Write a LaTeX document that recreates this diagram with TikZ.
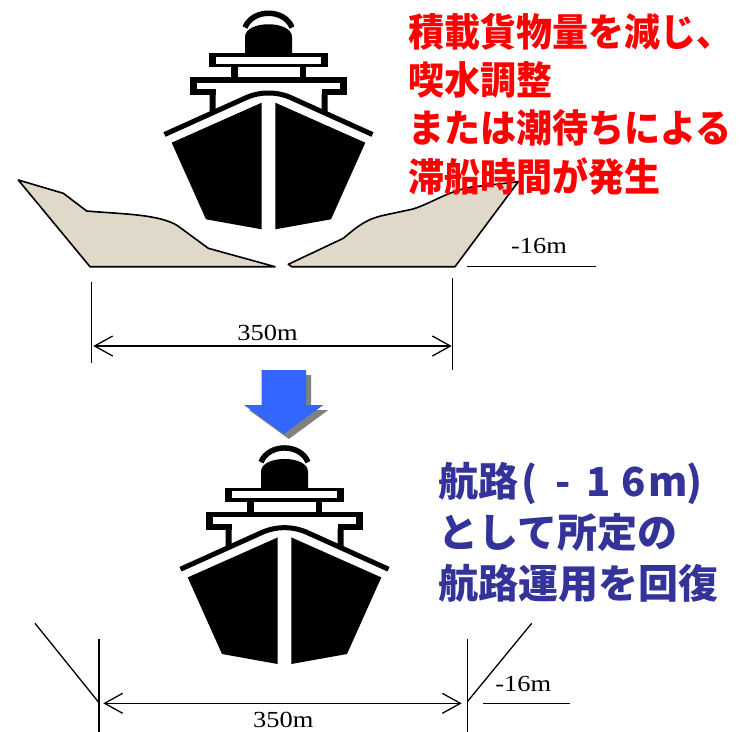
\documentclass[tikz,border=0pt]{standalone}
\usepackage{fontspec}
\setmainfont{Liberation Serif}
\newfontfamily\jpfont{Noto Sans CJK JP}
\usetikzlibrary{arrows.meta}

\definecolor{sand}{RGB}{224,216,200}
\definecolor{alertred}{RGB}{255,0,0}
\definecolor{noteblue}{RGB}{51,51,153}
\definecolor{flowblue}{RGB}{51,102,255}
\definecolor{shadowgray}{RGB}{128,128,128}

\newcommand\widetext[1]{\scalebox{1.15}[1]{#1}}

\tikzset{
  dimline/.style={line width=1.3pt},
  dimarrow/.style={line width=1.3pt,
    {Straight Barb[length=18pt,width=20pt]}-{Straight Barb[length=18pt,width=20pt]}},
  seabed/.style={fill=sand, draw=black, line width=1.6pt, line join=round},
  measure/.style={font=\fontsize{23}{23}\selectfont, inner sep=0pt, anchor=base},
  redtext/.style={font=\jpfont\bfseries\fontsize{36}{36}\selectfont, text=alertred,
    inner sep=0pt, anchor=base west},
  bluetext/.style={font=\jpfont\bfseries\fontsize{40}{40}\selectfont, text=noteblue,
    inner sep=0pt, anchor=base west},
  % front view of a ship, origin at the centre line, y measured downwards
  ship/.pic={
    % funnel cap and funnel
    \draw[line width=5.5pt] (-23.5,27.5) .. controls (-16,8.5) and (16,8.5) .. (23.5,27.5);
    \fill (-23.5,54) -- (-23.5,37) .. controls (-23.5,20) and (23.5,20) .. (23.5,37) -- (23.5,54) -- cycle;
    % upper deck with its two posts
    \fill (-59.5,53) rectangle (59.5,67);
    \fill[white] (-52.5,56.5) rectangle (52.5,63.5);
    \fill (-37.5,66) rectangle (-31,78);
    \fill (31,66) rectangle (37.5,78);
    % lower deck with its two posts
    \fill (-78.3,77.3) rectangle (78.3,95);
    \fill[white] (-71.3,82.7) rectangle (71.3,89.3);
    \fill[white] (-53,89) rectangle (53,95.5);
    \fill (-59,94) -- (-53,94) -- (-53,113) -- (-59,116) -- cycle;
    \fill (53,94) -- (59,94) -- (59,116) -- (53,113) -- cycle;
    % sheer line
    \draw[line width=5pt, rounded corners=10pt] (-104,134.5) -- (-12,93) -- (12,93) -- (104,134.5);
    % hull, split by the stem
    \fill (-96.8,142.7) -- (-6.8,102.7) -- (-6.8,229.3) -- (-62.5,219.3) -- cycle;
    \fill (6.8,102.7) -- (96.8,142.7) -- (62.5,219.3) -- (6.8,229.3) -- cycle;
  }
}

\begin{document}
\begin{tikzpicture}[x=1pt,y=-1pt]
\useasboundingbox (0,0) rectangle (743,731);

% ---------- before: shoaled channel ----------
\draw[seabed] (18.3,180) -- (63.3,193.3) -- (86.7,211)
  .. controls (120,214) and (160,214) .. (178,226) -- (208.3,248.3)
  -- (275,266.7) -- (90,266.7) -- cycle;
\draw[seabed] (288.3,264.3) -- (343.3,238.3)
  .. controls (358,226) and (366,219) .. (385,215) -- (413,209)
  .. controls (432,203) and (448,191) .. (472,187) -- (518.3,181.7)
  -- (455,266.7) -- (291.7,266.7) -- cycle;

\pic at (268.5,0) {ship};

\coordinate (lvlA1) at (466.7,266.7);
\coordinate (lvlA2) at (596,266.7);
\draw[dimline] (lvlA1) -- (lvlA2);
\node[measure] (depthA) at (539,253.3) {\widetext{-16m}};

\coordinate (extAL1) at (91.7,281.7);
\coordinate (extAL2) at (91.7,363.3);
\coordinate (extAR1) at (452.7,278.3);
\coordinate (extAR2) at (452.7,370);
\draw[dimline] (extAL1) -- (extAL2);
\draw[dimline] (extAR1) -- (extAR2);
\coordinate (arrAL) at (93.3,346);
\coordinate (arrAR) at (451.7,346);
\draw[dimarrow] (arrAL) -- (arrAR);
\node[measure] (widthA) at (267.5,340.7) {\widetext{350m}};

\node[redtext] (warn1) at (408,46.2) {\scalebox{1}[1.07]{積載貨物量を減じ、}};
\node[redtext] (warn2) at (408,94.5) {\scalebox{1}[1.07]{喫水調整}};
\node[redtext] (warn3) at (408,142.8) {\scalebox{1}[1.07]{または潮待ちによる}};
\node[redtext] (warn4) at (408,191.1) {\scalebox{1}[1.07]{滞船時間が発生}};

% ---------- transition arrow ----------
\begin{scope}[shift={(5,5)}]
  \fill[shadowgray] (261.7,370) -- (306,370) -- (306,405) -- (323.3,405) -- (283.8,434)
    -- (244,405) -- (261.7,405) -- cycle;
\end{scope}
\fill[flowblue] (261.7,370) -- (306,370) -- (306,405) -- (323.3,405) -- (283.8,434)
  -- (244,405) -- (261.7,405) -- cycle;

% ---------- after: dredged channel ----------
\begin{scope}[shift={(284.5,434.7)}, yscale=1.106]
  \pic {ship};
\end{scope}

\coordinate (slopeBL1) at (35,623.3);
\coordinate (slopeBL2) at (99,702.7);
\draw[dimline] (slopeBL1) -- (slopeBL2);
\coordinate (slopeBR1) at (467.3,701.7);
\coordinate (slopeBR2) at (531.7,623.3);
\draw[dimline] (slopeBR1) -- (slopeBR2);
\coordinate (extBL1) at (99,639.3);
\coordinate (extBL2) at (99,735);
\coordinate (extBR1) at (467.3,639.3);
\coordinate (extBR2) at (467.3,735);
\draw[dimline] (extBL1) -- (extBL2);
\draw[dimline] (extBR1) -- (extBR2);
\coordinate (lvlB1) at (483.3,703.3);
\coordinate (lvlB2) at (570,703.3);
\draw[dimline] (lvlB1) -- (lvlB2);
\node[measure] (depthB) at (523.3,691.7) {\widetext{-16m}};
\coordinate (arrBL) at (103.3,703.3);
\coordinate (arrBR) at (461.7,703.3);
\draw[dimarrow] (arrBL) -- (arrBR);
\node[measure] (widthB) at (283.3,727.5) {\widetext{350m}};

\node[bluetext] (fix1) at (438,496.9) {航路\hspace{2pt}\makebox[18pt]{(}\makebox[50pt]{-}\makebox[20pt]{1}\makebox[50pt]{6}\makebox[20pt]{m}\makebox[32pt]{)}};
\node[bluetext] (fix2) at (438,547.7) {として所定の};
\node[bluetext] (fix3) at (438,598.5) {航路運用を回復};
\end{tikzpicture}
\end{document}
